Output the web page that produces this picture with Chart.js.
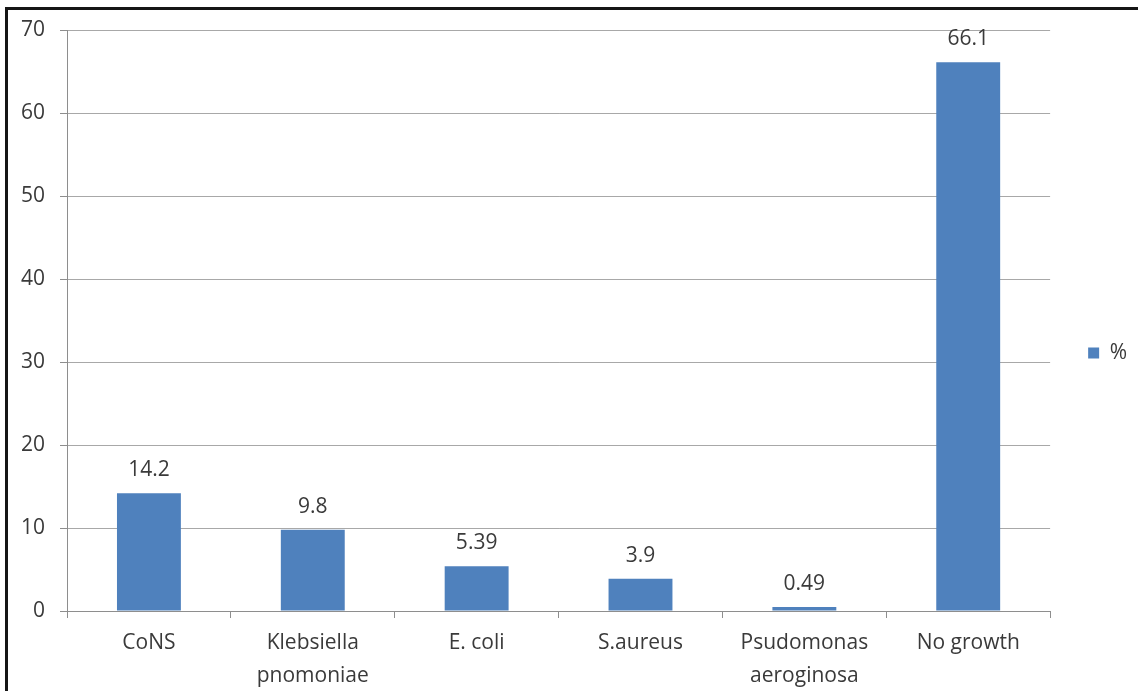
<!DOCTYPE html>
<html>
<head>
<meta charset="utf-8">
<title>Culture results</title>
<script src="https://cdn.jsdelivr.net/npm/chart.js@4"></script>
<style>
  html, body { margin: 0; padding: 0; background: #fff; overflow: hidden; }
  #wrap { position: relative; width: 1138px; height: 691px; }
  #frame {
    position: absolute; left: 5px; top: 7px; width: 1200px; height: 800px;
    border-top: 3px solid #151515; border-left: 3px solid #151515;
    pointer-events: none;
  }
</style>
</head>
<body>
<div id="wrap">
  <canvas id="grafico" width="1138" height="691"></canvas>
  <div id="frame"></div>
</div>
<script>
const organismos = ['CoNS', ['Klebsiella', 'pnomoniae'], 'E. coli', 'S.aureus', ['Psudomonas', 'aeroginosa'], 'No growth'];
const percentuais = [14.2, 9.8, 5.39, 3.9, 0.49, 66.1];
const serieNome = '%';
const eixoMax = 70;
const eixoPasso = 10;

const corBarra = '#4f81bd';
const corTexto = '#3a3a3a';
const corGrade = '#a8a8a8';
const corEixo = '#8e8e8e';
const fonte = { family: "'Open Sans', sans-serif", size: 21 };

// escreve o valor acima de cada barra
const rotulosValor = {
    id: 'rotulosValor',
    afterDatasetsDraw(chart) {
        const ctx = chart.ctx;
        const meta = chart.getDatasetMeta(0);
        ctx.save();
        ctx.font = `${fonte.size}px ${fonte.family}`;
        ctx.fillStyle = corTexto;
        ctx.textAlign = 'center';
        ctx.textBaseline = 'middle';
        meta.data.forEach((barra, i) => {
            ctx.fillText(String(chart.data.datasets[0].data[i]), barra.x, barra.y - 23);
        });
        ctx.restore();
    }
};

const ctx = document.getElementById('grafico').getContext('2d');
new Chart(ctx, {
    type: 'bar',
    data: {
        labels: organismos,
        datasets: [{
            label: serieNome,
            data: percentuais,
            backgroundColor: corBarra,
            borderWidth: 0,
            barPercentage: 0.39,
            categoryPercentage: 1
        }]
    },
    options: {
        responsive: false,
        animation: false,
        devicePixelRatio: 1,
        // topo menor para a legenda ficar centrada um pouco acima; o eixo y reserva o resto
        layout: { padding: { top: 15, bottom: 0, left: 0, right: 1 } },
        scales: {
            x: {
                grid: {
                    offset: true,
                    drawOnChartArea: false,
                    drawTicks: true,
                    tickLength: 7,
                    color: corEixo
                },
                border: { color: corEixo, width: 1 },
                ticks: {
                    color: corTexto,
                    font: { ...fonte, lineHeight: 1.55 },
                    padding: 9,
                    maxRotation: 0,
                    autoSkip: false
                },
                afterFit(scale) { scale.height = 80; }
            },
            y: {
                min: 0,
                max: eixoMax,
                ticks: {
                    stepSize: eixoPasso,
                    color: corTexto,
                    font: fonte,
                    padding: 15
                },
                grid: { color: corGrade, tickLength: 7, tickColor: corEixo },
                border: { color: corEixo, width: 1 },
                afterFit(scale) {
                    scale.width = 67;
                    scale.paddingTop = 30;
                }
            }
        },
        plugins: {
            legend: {
                position: 'right',
                labels: {
                    color: corTexto,
                    font: fonte,
                    boxWidth: 11,
                    boxHeight: 11,
                    padding: 38
                }
            },
            tooltip: { enabled: false }
        }
    },
    plugins: [rotulosValor]
});
</script>
</body>
</html>
